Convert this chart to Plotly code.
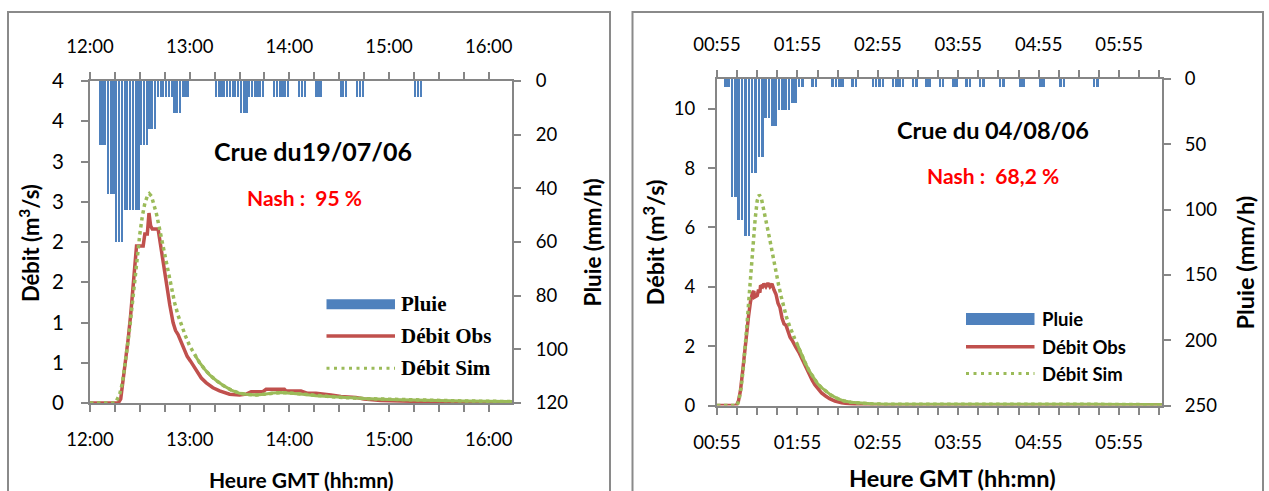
import plotly.graph_objects as go
import pandas as pd

W, H = 1269, 491
GRAY = "#868686"
BLUE = "#4F81BD"
RED = "#C0504D"
GREEN = "#9BBB59"
SANS = "Lato"
SERIF = "Liberation Serif"

# ---------------- Data : Crue du 19/07/06 (minutes after 12:00) ----------------
L_START = pd.Timestamp("2006-07-19 12:00")
L_END_MIN = 254
L_rain_min = [5, 10, 15, 20, 25, 30, 35, 40, 45, 50, 55, 75, 80, 85, 90, 95, 100,
              110, 115, 125, 135, 150, 160, 195]
L_rain_val = [24, 42, 60, 48, 48, 24, 18, 6, 6, 12, 6, 6, 6, 6, 12, 6, 6,
              6, 6, 6, 6, 6, 6, 6]
L_obs_min = [0, 17, 18.5, 20, 21.5, 23, 24.5, 26, 27.5, 28, 32, 33, 34.5, 35.5, 36.5,
             37.5, 41, 42.5, 44, 46, 48, 50, 51.5, 53, 55, 57, 58.5, 60.5, 62.5, 64.5,
             67, 70, 74, 78, 84, 90, 94, 97, 104, 106, 117, 118, 127, 131, 136, 145,
             151, 160, 165, 175, 195, 215, 254]
L_obs_val = [0, 0, 0.05, 0.3, 0.5, 0.8, 1.1, 1.5, 1.9, 1.95, 1.95, 2.1, 2.1, 2.36, 2.2,
             2.16, 2.16, 1.95, 1.75, 1.5, 1.22, 1.0, 0.9, 0.85, 0.75, 0.65, 0.58, 0.52,
             0.46, 0.4, 0.31, 0.25, 0.19, 0.15, 0.11, 0.10, 0.11, 0.14, 0.14, 0.17, 0.17,
             0.15, 0.15, 0.12, 0.12, 0.10, 0.08, 0.07, 0.05, 0.03, 0.02, 0.012, 0.005]
L_sim_min = [0, 15, 16.5, 18, 19.5, 21, 22.5, 24, 25.5, 27, 28.5, 30, 31.5, 33, 34.5,
             35.7, 37, 38.5, 40, 41.5, 43, 45, 47, 49, 51, 53, 55, 57.5, 60, 63, 66, 69,
             72, 76, 80, 85, 90, 95, 100, 105, 110, 115, 120, 128, 136, 150, 165, 180,
             200, 225, 254]
L_sim_val = [0, 0, 0.05, 0.12, 0.25, 0.45, 0.7, 0.95, 1.25, 1.55, 1.85, 2.1, 2.32,
             2.48, 2.57, 2.6, 2.57, 2.47, 2.35, 2.2, 2.05, 1.85, 1.62, 1.42, 1.24, 1.09,
             0.96, 0.83, 0.71, 0.6, 0.5, 0.42, 0.35, 0.28, 0.22, 0.16, 0.12, 0.105, 0.10,
             0.11, 0.125, 0.13, 0.125, 0.11, 0.09, 0.07, 0.055, 0.045, 0.035, 0.025, 0.018]
L_debit_ticks = [0, 0.5, 1, 1.5, 2, 2.5, 3, 3.5, 4]
L_debit_text = ["0", "1", "1", "2", "2", "3", "3", "4", "4"]

# ---------------- Data : Crue du 04/08/06 (minutes after 00:55) ----------------
R_START = pd.Timestamp("2006-08-04 00:55")
R_END_MIN = 332
R_rain_min = [5, 10, 15, 20, 25, 30, 35, 40, 45, 50, 55, 60, 70, 85, 90, 100, 115, 120,
              130, 135, 145, 155, 165, 175, 185, 195, 210, 225, 240, 255, 280]
R_rain_val = [6, 90, 108, 120, 72, 60, 30, 36, 24, 24, 18, 6, 6, 6, 6, 6, 6, 6,
              6, 6, 6, 6, 6, 6, 6, 6, 6, 6, 6, 6, 6]
R_obs_min = [0, 14.5, 16, 17.5, 19, 20.5, 22, 23.5, 25, 26.5, 27.5, 28, 30, 31, 32, 32.5,
             34, 35, 36.5, 38, 39.5, 41, 42.5, 44, 45.5, 47, 48.5, 50, 51.5, 53, 54.5, 56,
             57.5, 59, 61, 63, 65, 67, 69, 71, 73, 75, 78, 81, 84, 88, 93, 100, 110, 130,
             160, 200, 240, 280, 332]
R_obs_val = [0, 0, 0.15, 0.5, 1.1, 1.8, 2.5, 3.0, 3.5, 3.8, 3.85, 3.65, 3.7, 3.9, 3.8, 4.05,
             4.0, 4.1, 4.0, 4.12, 4.0, 4.1, 3.9, 3.75, 3.45, 3.3, 2.95, 2.75, 2.7, 2.45, 2.3,
             2.2, 2.05, 1.95, 1.8, 1.6, 1.4, 1.2, 1.0, 0.85, 0.7, 0.58, 0.42, 0.32, 0.23,
             0.15, 0.09, 0.05, 0.025, 0.02, 0.025, 0.03, 0.03, 0.025, 0.02]
R_sim_min = [0, 15, 16.5, 18, 19.5, 21, 22.5, 24, 25.5, 27, 28.5, 30, 31.5, 33, 34.5, 36,
             38, 40, 42, 44, 46, 48, 50, 52, 54, 56, 58, 60, 63, 66, 69, 72, 75, 78, 81, 85,
             90, 95, 100, 106, 115, 125, 150, 180, 210, 240, 280, 332]
R_sim_val = [0, 0, 0.2, 0.6, 1.2, 1.9, 2.8, 3.7, 4.6, 5.4, 6.3, 6.9, 7.1, 7.0, 6.7, 6.35,
             5.9, 5.45, 4.95, 4.5, 4.05, 3.65, 3.25, 2.95, 2.7, 2.45, 2.25, 2.05, 1.72,
             1.42, 1.15, 0.92, 0.74, 0.6, 0.48, 0.35, 0.23, 0.15, 0.11, 0.08, 0.055,
             0.045, 0.045, 0.05, 0.06, 0.055, 0.04, 0.025]

TICK_LABELS_LEFT = ["12:00", "13:00", "14:00", "15:00", "16:00"]
TICK_LABELS_RIGHT = ["00:55", "01:55", "02:55", "03:55", "04:55", "05:55"]
L_rain_ticks = [0, 20, 40, 60, 80, 100, 120]
R_rain_ticks = [0, 50, 100, 150, 200, 250]
R_debit_ticks = [0, 2, 4, 6, 8, 10]


def px_x(p):
    return p / W


def px_y(p):
    return 1 - p / H


def times(start, mins):
    return [start + pd.Timedelta(minutes=m) for m in mins]


def sub_bars(start, mins, vals, n):
    xs, ys = [], []
    for m, v in zip(mins, vals):
        for k in range(n):
            xs.append(start + pd.Timedelta(minutes=m + (k + 0.5) * 5.0 / n))
            ys.append(v)
    return xs, ys


fig = go.Figure()


def add_chart(start, rain_min, rain_val, obs_min, obs_val, sim_min, sim_val,
              n_sub, fill, xa, xa_top, ya, ya_rain, solid_from):
    bx, by = sub_bars(start, rain_min, rain_val, n_sub)
    fig.add_trace(go.Bar(x=bx, y=by, xaxis=xa_top, yaxis=ya_rain,
                         marker=dict(color=BLUE, line=dict(width=0)),
                         width=fill * 5.0 / n_sub * 60000, name="Pluie"))
    fig.add_trace(go.Scatter(x=times(start, obs_min), y=obs_val, xaxis=xa, yaxis=ya,
                             mode="lines", line=dict(color=RED, width=3.5),
                             name="Débit Obs"))
    fig.add_trace(go.Scatter(x=times(start, sim_min), y=sim_val, xaxis=xa, yaxis=ya,
                             mode="lines",
                             line=dict(color=GREEN, width=3.5, dash="3.5px,3.5px"),
                             name="Débit Sim"))
    tail = [(m, v) for m, v in zip(sim_min, sim_val) if m >= solid_from]
    fig.add_trace(go.Scatter(x=times(start, [t[0] for t in tail]), y=[t[1] for t in tail],
                             xaxis=xa, yaxis=ya, mode="lines",
                             line=dict(color=GREEN, width=3), showlegend=False))


add_chart(L_START, L_rain_min, L_rain_val, L_obs_min, L_obs_val,
          L_sim_min, L_sim_val, 3, 0.76, "x", "x2", "y", "y2", 62)
add_chart(R_START, R_rain_min, R_rain_val, R_obs_min, R_obs_val,
          R_sim_min, R_sim_val, 2, 0.78, "x3", "x4", "y3", "y4", 60)


def tickfont(size=18.5):
    return dict(family=SANS, size=size, color="black")


def xcfg(domain, start, end_min, labels, side, overlay=None, anchor=None):
    tv = [start + pd.Timedelta(hours=i) for i in range(len(labels))]
    d = dict(domain=domain, type="date", automargin=False,
             range=[start, start + pd.Timedelta(minutes=end_min)],
             tickvals=tv, ticktext=labels, side=side,
             ticks="outside", ticklen=7, tickwidth=1.5, tickcolor=GRAY,
             showline=True, linecolor=GRAY, linewidth=2, showgrid=False, zeroline=False,
             tickfont=tickfont(), ticklabelstandoff=12,
             minor=dict(tick0=start, dtick=900000, ticks="outside", ticklen=7,
                        tickwidth=1.5, tickcolor=GRAY, showgrid=False))
    if overlay:
        d["overlaying"] = overlay
    if anchor:
        d["anchor"] = anchor
    return d


def ycfg(domain, rng, side, tickvals, ticktext, overlay=None, anchor=None,
         standoff=12, fsize=18.5):
    d = dict(range=rng, side=side, ticks="outside", ticklen=7, tickwidth=1.5,
             automargin=False, tickcolor=GRAY, showline=True, linecolor=GRAY, linewidth=2,
             showgrid=False, zeroline=False, tickfont=tickfont(fsize),
             ticklabelstandoff=standoff, tickvals=tickvals, ticktext=ticktext)
    if domain:
        d["domain"] = domain
    if overlay:
        d["overlaying"] = overlay
    if anchor:
        d["anchor"] = anchor
    return d


LXD = [px_x(90), px_x(512)]
LYD = [px_y(403), px_y(81)]
RXD = [px_x(717), px_x(1162)]
RYD = [px_y(405.5), px_y(79)]

fig.update_layout(
    width=W, height=H, margin=dict(l=0, r=0, t=0, b=0, autoexpand=False),
    paper_bgcolor="white", plot_bgcolor="rgba(0,0,0,0)", showlegend=False,
    bargap=0,
    xaxis=xcfg(LXD, L_START, L_END_MIN, TICK_LABELS_LEFT, "bottom", anchor="y"),
    xaxis2=xcfg(LXD, L_START, L_END_MIN, TICK_LABELS_LEFT, "top", overlay="x", anchor="y"),
    yaxis=ycfg(LYD, [0, 4], "left", L_debit_ticks, L_debit_text, anchor="x",
               standoff=13, fsize=20.5),
    yaxis2=ycfg(None, [120, 0], "right", L_rain_ticks, [str(v) for v in L_rain_ticks],
                overlay="y", anchor="x", standoff=11),
    xaxis3=xcfg(RXD, R_START, R_END_MIN, TICK_LABELS_RIGHT, "bottom", anchor="y3"),
    xaxis4=xcfg(RXD, R_START, R_END_MIN, TICK_LABELS_RIGHT, "top", overlay="x3", anchor="y3"),
    yaxis3=ycfg(RYD, [0, 11], "left", R_debit_ticks, [str(v) for v in R_debit_ticks],
                anchor="x3", standoff=9),
    yaxis4=ycfg(None, [250, 0], "right", R_rain_ticks, [str(v) for v in R_rain_ticks],
                overlay="y3", anchor="x3", standoff=10),
)

shapes = []
# outer frames
for x0, x1 in [(8, 610), (632.5, 1263)]:
    shapes.append(dict(type="rect", xref="paper", yref="paper", x0=px_x(x0), x1=px_x(x1),
                       y0=px_y(12), y1=-0.1, line=dict(color="#8A8A8A", width=2),
                       fillcolor="rgba(0,0,0,0)", layer="below"))

annotations = []


def ann(text, x, y, size, color="black", family=SANS, bold=True, angle=0, anchor="center"):
    t = "<b>%s</b>" % text if bold else text
    annotations.append(dict(text=t, x=px_x(x), y=px_y(y), xref="paper", yref="paper",
                            showarrow=False, xanchor=anchor, yanchor="middle",
                            textangle=angle,
                            font=dict(family=family, size=size, color=color)))


def legend(x0, x1, ys, tx, fam, size, rect_h):
    shapes.append(dict(type="rect", xref="paper", yref="paper", x0=px_x(x0), x1=px_x(x1),
                       y0=px_y(ys[0] + rect_h / 2), y1=px_y(ys[0] - rect_h / 2),
                       fillcolor=BLUE, line=dict(width=0)))
    shapes.append(dict(type="line", xref="paper", yref="paper", x0=px_x(x0), x1=px_x(x1),
                       y0=px_y(ys[1]), y1=px_y(ys[1]), line=dict(color=RED, width=3.5)))
    shapes.append(dict(type="line", xref="paper", yref="paper", x0=px_x(x0), x1=px_x(x1),
                       y0=px_y(ys[2]), y1=px_y(ys[2]),
                       line=dict(color=GREEN, width=3, dash="3px,4.5px")))
    for lab, yy in zip(["Pluie", "Débit Obs", "Débit Sim"], ys):
        ann(lab, tx, yy, size, family=fam, anchor="left")


# left chart texts
ann("Crue du19/07/06", 312.5, 151, 25)
ann("Nash :  95 %", 304, 197, 21, color="#FF0000")
ann("Débit (m<sup>3</sup>/s)", 29, 243, 22, angle=-90)
ann("Pluie (mm/h)", 592, 242.5, 22.5, angle=-90)
ann("Heure GMT (hh:mn)", 301, 479, 21)
legend(326.5, 395, [304.3, 336, 368.3], 399, SERIF, 21, 10)

# right chart texts
ann("Crue du 04/08/06", 993, 130, 23.5)
ann("Nash :  68,2 %", 993, 175, 21, color="#FF0000")
ann("Débit (m<sup>3</sup>/s)", 654, 242.5, 23.5, angle=-90)
ann("Pluie (mm/h)", 1244, 262.5, 23.5, angle=-90)
ann("Heure GMT (hh:mn)", 952, 478, 23.5)
legend(966, 1034.5, [319, 346.7, 373.5], 1039.5, SANS, 18.5, 12)

fig.update_layout(shapes=shapes, annotations=annotations)
fig.write_html("out.html")
